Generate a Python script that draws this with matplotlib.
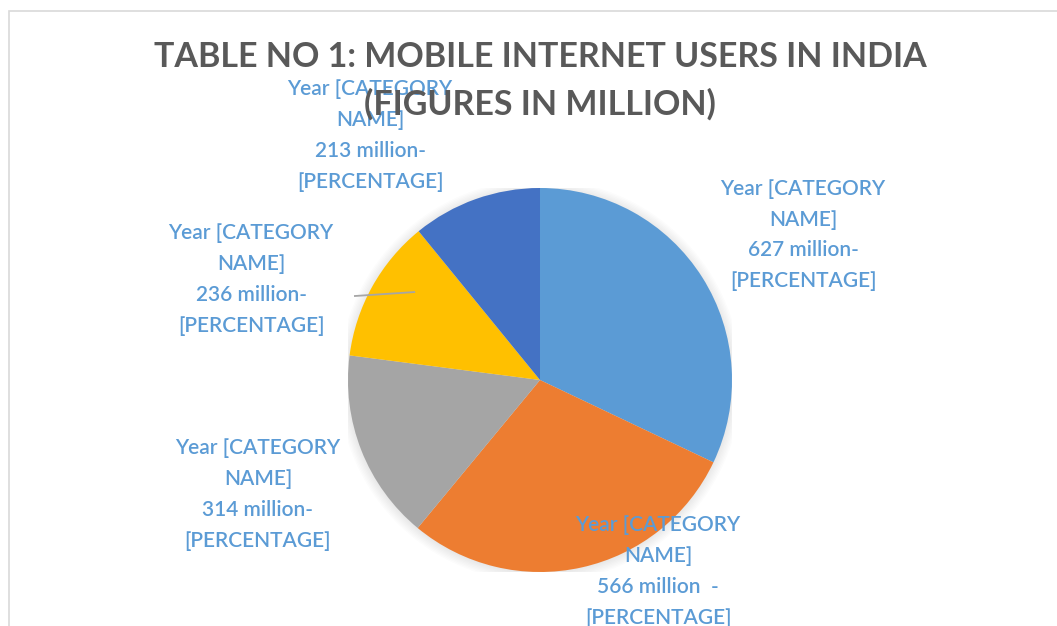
import matplotlib
matplotlib.use('Agg')
from matplotlib import pyplot as plt
from matplotlib.patches import Circle, Rectangle
import numpy as np

# mobile internet users per year, millions
values = [627, 566, 314, 236, 213]
value_text = ['627 million-', '566 million  -', '314 million-', '236 million-', '213 million-']
colors = ['#5b9bd5', '#ed7d31', '#a5a5a5', '#ffc000', '#4472c4']
# where each label block sits, in pie radius units
label_xy = [(1.37, 0.755), (0.615, -0.997), (-1.469, -0.596), (-1.505, 0.524), (-0.885, 1.275)]

title = 'TABLE NO 1: MOBILE INTERNET USERS IN INDIA\n(FIGURES IN MILLION)'
label_col = '#5b9bd5'
font = 'Lato'

W, H = 1057, 626
fig = plt.figure(figsize=(W / 100, H / 100), dpi=100)
fig.patch.set_facecolor('white')

# chart frame, only top and left edges fall inside the image
fig.patches.append(Rectangle((9 / W, -0.1), 1.2, (H - 11) / H + 0.1, transform=fig.transFigure,
                             fill=False, edgecolor='#d9d9d9', lw=1.2))

cx, cy, r = 540, 380, 192
ax = fig.add_axes([(cx - r) / W, (H - cy - r) / H, 2 * r / W, 2 * r / H])
ax.axis('off')

# soft shadow under the pie
for k in np.linspace(1.0, 1.05, 8):
    ax.add_patch(Circle((0.0, -0.005), k, color='black', alpha=0.012, lw=0, zorder=0))

ax.pie(values, colors=colors, startangle=90, counterclock=False, radius=1,
       wedgeprops=dict(linewidth=0), frame=False)
ax.set_xlim(-1, 1)
ax.set_ylim(-1, 1)
ax.set_aspect('auto')

fig.text(cx / W, 1 - 80.5 / H, title, ha='center', va='center', fontsize=24.5,
         fontweight='bold', color='#595959', family=font, linespacing=1.55, zorder=5)

for (lx, ly), vt in zip(label_xy, value_text):
    ax.text(lx, ly, 'Year [CATEGORY\nNAME]\n' + vt + '\n[PERCENTAGE]', ha='center', va='center',
            fontsize=15, fontweight='semibold', color=label_col, family=font,
            linespacing=1.68, clip_on=False, zorder=6)

# leader line for the 236 label
ax.plot([-0.964, -0.655], [0.4375, 0.458], color='#a6a6a6', lw=1.3, clip_on=False, zorder=4)

fig.savefig('out.png', dpi=100, facecolor='white')
